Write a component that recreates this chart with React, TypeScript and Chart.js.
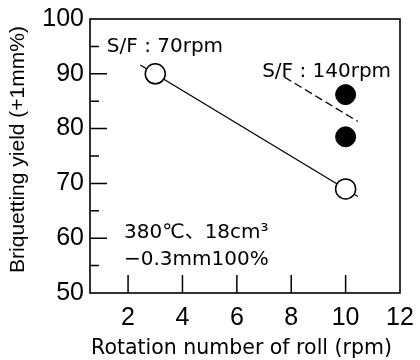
import React, { useEffect, useRef } from "react";
import { Chart, registerables } from "chart.js";
Chart.register(...registerables);

// ---- data ----
const xTicks = [2, 4, 6, 8, 10, 12];
const yTicks = [50, 60, 70, 80, 90, 100];
const yMinorTicks = [55, 65, 75, 85, 95];

const rpm70X = [3, 10];
const rpm70Y = [90, 69];
const rpm140X = [10, 10];
const rpm140Y = [86.2, 78.5];

const trend70X = [2.45, 10.45];
const trend70Y = [91.6, 67.6];
const trend140X = [7.75, 10.45];
const trend140Y = [89.4, 81.3];

const label70 = "S/F : 70rpm";
const label140 = "S/F : 140rpm";
const condLine1 = "380℃、18cm³";
const condLine2 = "−0.3mm100%";

const xTitle = "Rotation number of roll (rpm)";
const yTitle = "Briquetting yield (+1mm%)";

const pts = (xs: number[], ys: number[]) => xs.map((x, i) => ({ x, y: ys[i] }));

const framePlugin = {
  id: "frame",
  afterDatasetsDraw(chart: any) {
    const { ctx, chartArea: a, scales } = chart;
    const xs = scales.x;
    const ys = scales.y;
    ctx.save();
    ctx.strokeStyle = "#000";
    ctx.lineWidth = 1.6;
    ctx.strokeRect(a.left, a.top, a.right - a.left, a.bottom - a.top);
    ctx.lineWidth = 1.5;
    ctx.beginPath();
    xTicks.forEach((v) => {
      if (v >= xs.max) return;
      const px = xs.getPixelForValue(v);
      ctx.moveTo(px, a.bottom);
      ctx.lineTo(px, a.bottom - 18);
    });
    yTicks.forEach((v) => {
      if (v <= ys.min || v >= ys.max) return;
      const py = ys.getPixelForValue(v);
      ctx.moveTo(a.left, py);
      ctx.lineTo(a.left + 17, py);
    });
    yMinorTicks.forEach((v) => {
      const py = ys.getPixelForValue(v);
      ctx.moveTo(a.left, py);
      ctx.lineTo(a.left + 9, py);
    });
    ctx.stroke();

    // annotations
    ctx.fillStyle = "#000";
    ctx.textAlign = "left";
    ctx.textBaseline = "alphabetic";
    ctx.font = '20px "DejaVu Sans", "Noto Sans CJK JP"';
    ctx.fillText(label70, xs.getPixelForValue(1.22), ys.getPixelForValue(94.03));
    ctx.fillText(label140, xs.getPixelForValue(6.93), ys.getPixelForValue(89.36));
    ctx.fillText(condLine1, xs.getPixelForValue(1.85), ys.getPixelForValue(60.04));
    ctx.fillText(condLine2, xs.getPixelForValue(1.85), ys.getPixelForValue(55.16));

    // axis titles
    ctx.textAlign = "center";
    ctx.font = '20.5px "DejaVu Sans"';
    ctx.fillText(xTitle, (a.left + a.right) / 2 - 3.5, a.bottom + 60.5);

    ctx.save();
    ctx.translate(a.left - 66, (a.top + a.bottom) / 2 - 6.5);
    ctx.rotate(-Math.PI / 2);
    ctx.font = '21px "Liberation Sans"';
    ctx.fillText(yTitle, 0, 0);
    ctx.restore();

    ctx.restore();
  },
};

export default function App() {
  const ref = useRef<HTMLCanvasElement>(null);
  useEffect(() => {
    if (!ref.current) return;
    const chart = new Chart(ref.current, {
      type: "scatter",
      data: {
        datasets: [
          {
            data: pts(rpm70X, rpm70Y),
            pointRadius: 10,
            pointBackgroundColor: "#fff",
            pointBorderColor: "#000",
            pointBorderWidth: 1.5,
            showLine: false,
            order: 0,
          },
          {
            data: pts(rpm140X, rpm140Y),
            pointRadius: 10,
            pointBackgroundColor: "#000",
            pointBorderColor: "#000",
            pointBorderWidth: 1,
            showLine: false,
            order: 0,
          },
          {
            data: pts(trend70X, trend70Y),
            showLine: true,
            pointRadius: 0,
            borderColor: "#000",
            borderWidth: 1.3,
            order: 5,
          },
          {
            data: pts(trend140X, trend140Y),
            showLine: true,
            pointRadius: 0,
            borderColor: "#000",
            borderWidth: 1.3,
            borderDash: [8, 4],
            order: 5,
          },
        ],
      },
      options: {
        animation: false,
        responsive: false,
        layout: { padding: { left: 0, right: 20, top: 19, bottom: 0 } },
        plugins: { legend: { display: false }, tooltip: { enabled: false } },
        scales: {
          x: {
            type: "linear",
            min: 0.6,
            max: 12,
            afterBuildTicks: (s: any) => {
              s.ticks = xTicks.map((v) => ({ value: v }));
            },
            afterFit: (s: any) => {
              s.height = 67;
              s.paddingLeft = 0;
              s.paddingRight = 0;
              s.paddingTop = 0;
              s.paddingBottom = 0;
            },
            grid: { display: false, drawTicks: false },
            border: { display: false },
            ticks: {
              color: "#000",
              padding: 10,
              font: { family: "Liberation Sans", size: 25 },
            },
          },
          y: {
            type: "linear",
            min: 50,
            max: 100,
            afterBuildTicks: (s: any) => {
              s.ticks = yTicks.map((v) => ({ value: v }));
            },
            afterFit: (s: any) => {
              s.width = 90;
              s.paddingLeft = 0;
              s.paddingRight = 0;
              s.paddingTop = 0;
              s.paddingBottom = 0;
            },
            grid: { display: false, drawTicks: false },
            border: { display: false },
            ticks: {
              color: "#000",
              padding: 6,
              font: { family: "Liberation Sans", size: 25 },
            },
          },
        },
      },
      plugins: [framePlugin],
    });
    return () => chart.destroy();
  }, []);
  return (
    <div style={{ position: "absolute", left: 0, top: 0, width: 420, height: 360, background: "#fff" }}>
      <canvas ref={ref} width={420} height={360} style={{ display: "block" }} />
    </div>
  );
}
